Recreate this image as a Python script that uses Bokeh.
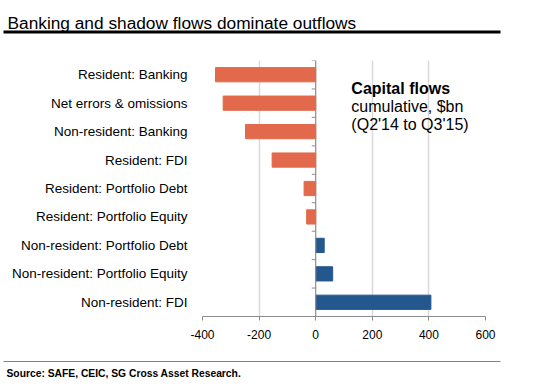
from bokeh.plotting import figure
from bokeh.models import Range1d, FixedTicker, Label, ColumnDataSource
from bokeh.layouts import column
from bokeh.embed import file_html
from bokeh.resources import INLINE

# ---- data ----
categories = [
    "Resident: Banking",
    "Net errors & omissions",
    "Non-resident: Banking",
    "Resident: FDI",
    "Resident: Portfolio Debt",
    "Resident: Portfolio Equity",
    "Non-resident: Portfolio Debt",
    "Non-resident: Portfolio Equity",
    "Non-resident: FDI",
]
values = [-354, -327, -248, -154, -41, -32, 30, 60, 407]
x_ticks = [-400, -200, 0, 200, 400, 600]
x_tick_labels = ["-400", "-200", "0", "200", "400", "600"]

title_text = "Banking and shadow flows dominate outflows"
note_lines = ["Capital flows", "cumulative, $bn", "(Q2'14 to Q3'15)"]
source_text = "Source: SAFE, CEIC, SG Cross Asset Research."

FONT = "Liberation Sans"
ORANGE = "#E2694B"
BLUE = "#24578E"
W = 530

n = len(categories)
ypos = [n - i - 0.5 for i in range(n)]
colors = [ORANGE if v < 0 else BLUE for v in values]

# ---- header ----
HH = 44
h = figure(width=W, height=HH, x_range=Range1d(0, W), y_range=Range1d(HH, 0),
           output_backend="svg", toolbar_location=None, min_border=0)
h.frame_align = False
h.axis.visible = False
h.grid.visible = False
h.outline_line_color = None
h.add_layout(Label(x=7, y=22.3, text=title_text, text_font=FONT,
                   text_font_size="17.3px", text_color="#000000",
                   text_baseline="alphabetic"))
h.segment(x0=[3], y0=[31.5], x1=[500], y1=[31.5], line_color="#000000", line_width=3)

# ---- main chart ----
p = figure(width=W, height=312, x_range=Range1d(-400, 600), y_range=Range1d(0, n),
           output_backend="svg", toolbar_location=None,
           min_border_left=202, min_border_right=W - 485, min_border_top=16, min_border_bottom=40)
p.frame_align = False
p.outline_line_color = None
p.background_fill_color = "white"

src = ColumnDataSource(dict(y=ypos, v=values, c=colors))
p.hbar(y="y", left=0, right="v", height=0.5, fill_color="c", line_color="c", source=src)

# zero axis with category separators
p.segment(x0=[0], y0=[0], x1=[0], y1=[n], line_color="#8C8C8C", line_width=1.2)
bounds = list(range(n + 1))
p.segment(x0=[-14] * len(bounds), y0=bounds, x1=[0] * len(bounds), y1=bounds,
          line_color="#8C8C8C", line_width=1)

# x axis
p.xaxis.ticker = FixedTicker(ticks=x_ticks)
p.xaxis.major_label_overrides = {t: s for t, s in zip(x_ticks, x_tick_labels)}
p.xaxis.axis_line_color = "#8C8C8C"
p.xaxis.axis_line_width = 1.2
p.xaxis.major_tick_line_color = "#8C8C8C"
p.xaxis.major_tick_out = 4
p.xaxis.major_tick_in = 0
p.xaxis.minor_tick_line_color = None
p.xaxis.major_label_standoff = 9
p.xaxis.major_label_text_font = FONT
p.xaxis.major_label_text_font_size = "12px"
p.xaxis.major_label_text_color = "#000000"

p.xgrid.ticker = FixedTicker(ticks=[t for t in x_ticks if t != 0])
p.xgrid.grid_line_color = "#D9D9D9"
p.xgrid.grid_line_width = 1.5
p.ygrid.visible = False

# y axis (category labels)
p.yaxis.ticker = FixedTicker(ticks=ypos)
p.yaxis.major_label_overrides = {y: c for y, c in zip(ypos, categories)}
p.yaxis.axis_line_color = None
p.yaxis.major_tick_line_color = None
p.yaxis.minor_tick_line_color = None
p.yaxis.major_label_standoff = 9
p.yaxis.major_label_text_font = FONT
p.yaxis.major_label_text_font_size = "13.5px"
p.yaxis.major_label_text_color = "#000000"

# note
note_y = [8.033, 7.383, 6.767]
for i, (t, yy) in enumerate(zip(note_lines, note_y)):
    p.add_layout(Label(x=126, y=yy, text=t, text_font=FONT, text_font_size="16px",
                       text_font_style="bold" if i == 0 else "normal",
                       text_color="#000000", text_baseline="alphabetic"))

# ---- footer ----
f = figure(width=W, height=30, x_range=Range1d(0, W), y_range=Range1d(30, 0),
           output_backend="svg", toolbar_location=None, min_border=0)
f.frame_align = False
f.axis.visible = False
f.grid.visible = False
f.outline_line_color = None
f.segment(x0=[3], y0=[5], x1=[500], y1=[5], line_color="#808080", line_width=1)
f.add_layout(Label(x=6, y=17, text=source_text, text_font=FONT, text_font_size="10.3px",
                   text_font_style="bold", text_color="#000000", text_baseline="middle"))

layout = column(h, p, f, spacing=0)
open("out.html", "w").write(file_html(layout, INLINE))
